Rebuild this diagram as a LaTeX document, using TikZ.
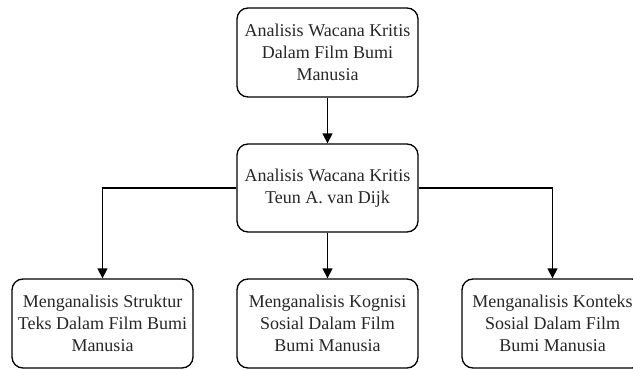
\documentclass[tikz,border=0pt]{standalone}
\usepackage{fontspec}
\setmainfont{Liberation Serif}
\usetikzlibrary{arrows.meta}
\begin{document}
\begin{tikzpicture}[x=1pt,y=-1pt,
  box/.style={draw=black, line width=1.3pt, rounded corners=11pt, minimum width=181pt, minimum height=89pt, align=center, inner sep=0pt, font=\fontsize{18}{21.8}\selectfont, text=black!85},
  conn/.style={draw=black, line width=1.3pt, -{Triangle[length=10pt,width=10pt]}}]
\useasboundingbox (0,0) rectangle (633,370);
\node[box] (top) at (327.5,52.5) {Analisis Wacana Kritis\\Dalam Film Bumi\\Manusia};
\node[box, minimum height=88pt] (mid) at (327.5,188) {Analisis Wacana Kritis\\Teun A. van Dijk};
\node[box] (b1) at (102.5,323.5) {Menganalisis Struktur\\Teks Dalam Film Bumi\\Manusia};
\node[box] (b2) at (327.5,323.5) {Menganalisis Kognisi\\Sosial Dalam Film\\Bumi Manusia};
\node[box] (b3) at (552.5,323.5) {Menganalisis Konteks\\Sosial Dalam Film\\Bumi Manusia};
\draw[conn] (top) -- (mid);
\draw[conn] (mid) -- (b2);
\draw[conn] (mid.west) -| (b1.north);
\draw[conn] (mid.east) -| (b3.north);
\end{tikzpicture}
\end{document}
